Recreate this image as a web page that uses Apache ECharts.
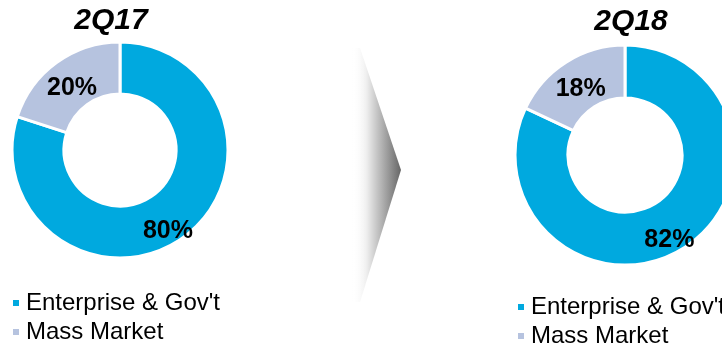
<!DOCTYPE html>
<html>
<head>
<meta charset="utf-8">
<script src="https://cdn.jsdelivr.net/npm/echarts@6/dist/echarts.min.js"></script>
<style>
html,body{margin:0;padding:0;background:#fff;}
#chart{width:722px;height:343px;}
</style>
</head>
<body>
<div id="chart"></div>
<script>
// Data
var categories = ["Enterprise & Gov't", "Mass Market"];
var periods = ["2Q17", "2Q18"];
var values2Q17 = [80, 20];
var values2Q18 = [82, 18];

var colors = ['#00A9DF', '#B6C3DF'];
var labelOffsets = [[-2, 12], [2, 7]];

function buildData(vals) {
  return vals.map(function (v, i) {
    return { name: categories[i], value: v, label: { offset: labelOffsets[i] } };
  });
}

var chart = echarts.init(document.getElementById('chart'), null, { renderer: 'canvas' });

var labelStyle = {
  show: true,
  position: 'inside',
  formatter: '{c}%',
  fontFamily: 'Liberation Sans, Arial, sans-serif',
  fontWeight: 'bold',
  fontSize: 25,
  color: '#000'
};

var legendText = {
  fontFamily: 'Liberation Sans, Arial, sans-serif',
  fontSize: 24,
  color: '#000',
  padding: [0, 0, 0, 1]
};

function legendBlock(left, top) {
  return { orient: 'vertical', left: left, top: top, height: 80, padding: 0,
    icon: 'rect', itemWidth: 8, itemHeight: 8, itemGap: 5,
    data: categories, textStyle: legendText, selectedMode: false };
}

var titleStyle = { fontFamily: 'Liberation Sans, Arial, sans-serif', fontSize: 30, fontWeight: 'bold', fontStyle: 'italic', color: '#000' };

var option = {
  animation: false,
  color: colors,
  title: [
    { text: periods[0], left: 111, top: 6, textAlign: 'center', padding: 0, textStyle: titleStyle },
    { text: periods[1], left: 631, top: 7, textAlign: 'center', padding: 0, textStyle: titleStyle }
  ],
  legend: [ legendBlock(11, 291), legendBlock(516, 295) ],
  graphic: [
    {
      type: 'polygon',
      shape: { points: [[352, 48], [360, 48], [401, 170], [360, 302], [352, 302]] },
      style: {
        fill: new echarts.graphic.LinearGradient(0, 0, 1, 0, [
          { offset: 0, color: 'rgba(255,255,255,0)' },
          { offset: 0.3, color: '#eeeeee' },
          { offset: 1, color: '#666666' }
        ])
      },
      z: 0
    }
  ],
  series: [
    {
      type: 'pie',
      name: periods[0],
      center: [120, 150],
      radius: [56, 108],
      startAngle: 90,
      clockwise: true,
      label: labelStyle,
      labelLine: { show: false },
      itemStyle: { borderColor: '#fff', borderWidth: 3 },
      emphasis: { disabled: true },
      data: buildData(values2Q17)
    },
    {
      type: 'pie',
      name: periods[1],
      center: [625, 155],
      radius: [57, 110],
      startAngle: 90,
      clockwise: true,
      label: labelStyle,
      labelLine: { show: false },
      itemStyle: { borderColor: '#fff', borderWidth: 3 },
      emphasis: { disabled: true },
      data: buildData(values2Q18)
    }
  ]
};

chart.setOption(option);
</script>
</body>
</html>
